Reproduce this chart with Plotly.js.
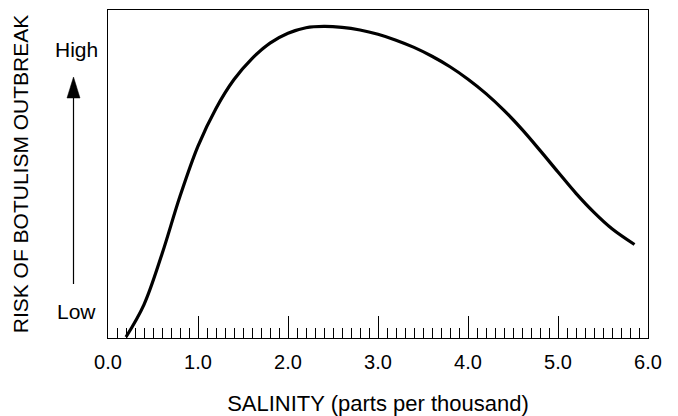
<!DOCTYPE html>
<html>
<head>
<meta charset="utf-8">
<script src="https://cdn.plot.ly/plotly-3.0.1.min.js"></script>
<style>html,body{margin:0;padding:0;background:#fff;}#chart{width:678px;height:416px;}</style>
</head>
<body>
<div id="chart"></div>
<script>
// Salinity (parts per thousand)
const salinity = [0.2, 0.4, 0.6, 0.8, 1.0, 1.2, 1.4, 1.6, 1.8, 2.0, 2.2, 2.4, 2.6, 2.8, 3.0, 3.2, 3.4, 3.6, 3.8, 4.0, 4.2, 4.4, 4.6, 4.8, 5.0, 5.2, 5.4, 5.6, 5.85];
// Relative risk (0 = low, 100 = top of frame)
const risk = [0.3, 10.2, 25.6, 43.2, 58.5, 70.0, 78.8, 85.2, 89.9, 92.9, 94.6, 95.0, 94.7, 93.9, 92.6, 90.8, 88.6, 85.9, 82.7, 78.9, 74.5, 69.4, 63.6, 57.2, 50.6, 44.1, 38.3, 33.3, 28.5];
const xTickVals = [0, 1, 2, 3, 4, 5, 6];
const xTickText = ['0.0', '1.0', '2.0', '3.0', '4.0', '5.0', '6.0'];
const levelLabels = ['High', 'Low'];
const levelValues = [88, 8];

const FONT = 'Liberation Sans, Arial, Helvetica, sans-serif';

const trace = {
  x: salinity, y: risk, type: 'scatter', mode: 'lines',
  line: {color: '#000', width: 3.2, shape: 'spline', smoothing: 1},
  hoverinfo: 'skip'
};

// arrow geometry (paper coords)
const ax = (73.5 - 108) / 540;
const tipY = (338 - 77) / 328;
const baseY = (338 - 98) / 328;
const tailY = (338 - 284) / 328;
const hw = 6.5 / 540;

const layout = {
  width: 678, height: 416,
  margin: {l: 108, r: 30, t: 10, b: 78},
  paper_bgcolor: '#fff', plot_bgcolor: '#fff',
  font: {family: FONT, size: 20, color: '#000'},
  showlegend: false,
  xaxis: {
    range: [0, 6], showgrid: false, zeroline: false,
    showline: true, mirror: true, linecolor: '#000', linewidth: 1.2,
    ticks: 'inside', ticklen: 22, tickwidth: 1, tickcolor: '#000',
    tickvals: xTickVals, ticktext: xTickText,
    ticklabelstandoff: 6,
    tickfont: {family: FONT, size: 20, color: '#000'},
    minor: {dtick: 0.1, tick0: 0, ticks: 'inside', ticklen: 10, tickwidth: 1, tickcolor: '#000', showgrid: false},
    title: {text: 'SALINITY (parts per thousand)', font: {family: FONT, size: 22, color: '#000'}, standoff: 24}
  },
  yaxis: {
    range: [0, 100], showgrid: false, zeroline: false,
    showline: true, mirror: true, linecolor: '#000', linewidth: 1.2,
    ticks: '', showticklabels: false,
    title: {text: 'RISK OF BOTULISM OUTBREAK', font: {family: FONT, size: 21, color: '#000'}, standoff: 72}
  },
  annotations: levelLabels.map((t, i) => ({
    text: t, xref: 'paper', yref: 'y', x: (76.5 - 108) / 540, y: levelValues[i],
    xanchor: 'center', yanchor: 'middle', showarrow: false,
    font: {family: FONT, size: 21, color: '#000'}
  })),
  shapes: [
    {type: 'line', xref: 'paper', yref: 'paper', x0: ax, x1: ax, y0: tailY, y1: baseY, line: {color: '#000', width: 1.2}},
    {type: 'path', xref: 'paper', yref: 'paper',
     path: `M ${ax},${tipY} L ${ax - hw},${baseY} L ${ax + hw},${baseY} Z`,
     fillcolor: '#000', line: {color: '#000', width: 0.5}}
  ]
};

Plotly.newPlot('chart', [trace], layout, {staticPlot: true, displayModeBar: false});
</script>
</body>
</html>
